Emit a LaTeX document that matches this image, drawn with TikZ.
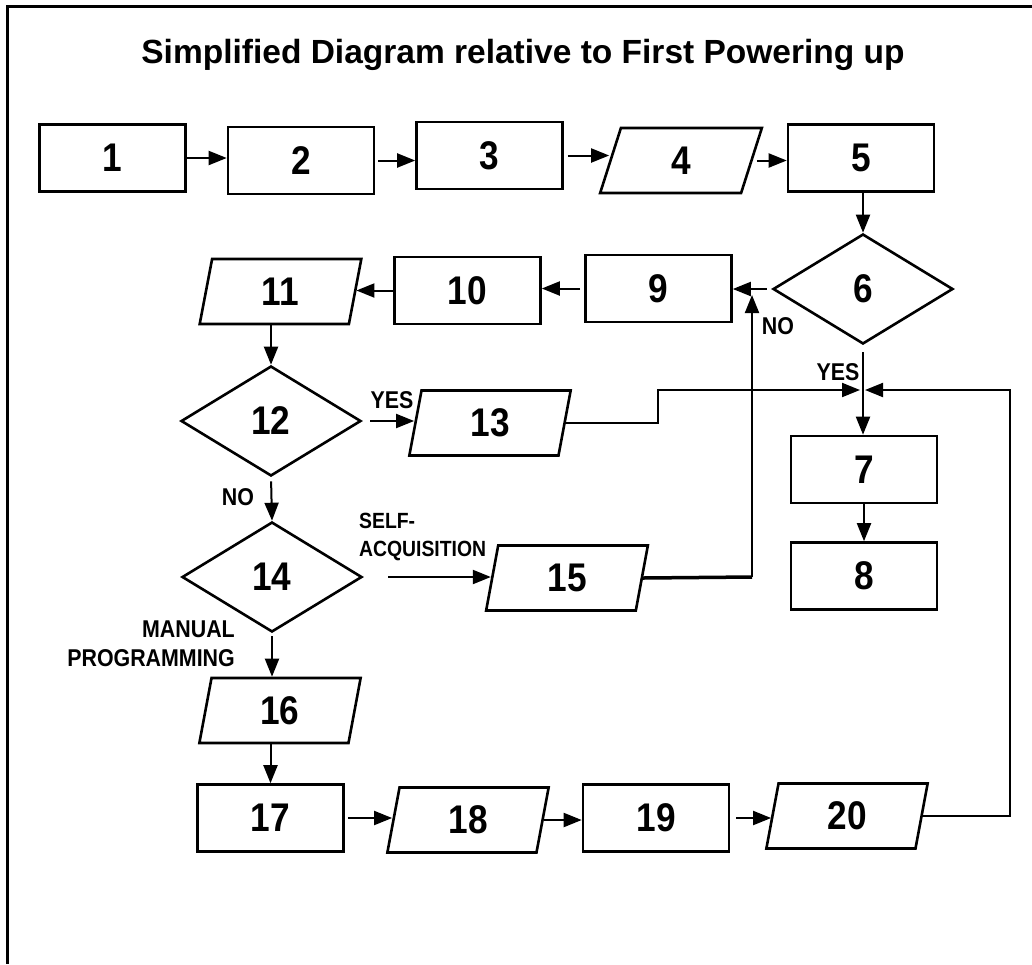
\documentclass[tikz,border=0pt]{standalone}
\usepackage{fontspec}
\setmainfont{Liberation Sans}
\newfontfamily\condfont[FakeStretch=0.88]{Liberation Sans}
\usetikzlibrary{shapes.geometric,arrows.meta}
\begin{document}
\begin{tikzpicture}[x=1pt,y=-1pt,
  numfont/.style={font=\condfont\bfseries\fontsize{40}{40}\selectfont},
  box/.style={draw, line width=2.6pt, rectangle, minimum width=146pt,
    minimum height=67pt, inner sep=0pt, numfont},
  io/.style={draw, line width=2.6pt, trapezium, trapezium left angle=83,
    trapezium right angle=97, trapezium stretches=true,
    minimum width=162pt, minimum height=65pt, inner sep=0pt, numfont},
  dec/.style={draw, line width=2.6pt, diamond, minimum width=180pt,
    minimum height=110pt, inner sep=0pt, numfont},
  arr/.style={line width=2pt, -{Triangle[length=18pt,width=14pt]}},
  lbl/.style={inner sep=0pt, font=\condfont\bfseries\fontsize{24.3}{29}\selectfont},
]
\useasboundingbox (0,0) rectangle (1032,964);
\fill[white] (0,0) rectangle (1032,964);

% outer frame (top and left edges)
\draw[line width=3pt] (1032,6) -- (7,6) -- (7,964);

% title
\node[font=\bfseries\fontsize{33.5}{33.5}\selectfont, anchor=base] (title)
  at (523,63) {Simplified Diagram relative to First Powering up};

% first row
\node[box] (n1) at (112.5,158) {1};
\node[box] (n2) at (301,160.5) {2};
\node[box] (n3) at (489.5,155.5) {3};
\node[io]  (n4) at (681,160.5) {4};
\node[box] (n5) at (861,158) {5};

% second row
\node[dec] (n6)  at (863,289) {6};
\node[box] (n9)  at (658.5,288.5) {9};
\node[box] (n10) at (467.5,290.5) {10};
\node[io]  (n11) at (280.5,291.5) {11};

% left column and right branch
\node[dec] (n12) at (271,421) {12};
\node[io]  (n13) at (490,423) {13};
\node[box] (n7)  at (864,469.5) {7};
\node[box] (n8)  at (864,576) {8};
\node[dec] (n14) at (272,577) {14};
\node[io]  (n15) at (567,578) {15};
\node[io]  (n16) at (280,710.5) {16};

% bottom row
\node[box] (n17) at (270.5,818) {17};
\node[io]  (n18) at (468,820) {18};
\node[box] (n19) at (656,818) {19};
\node[io]  (n20) at (847,816) {20};

% branch labels
\node[lbl] (no6)   at (778,326) {NO};
\node[lbl] (yes6)  at (838,372) {YES};
\node[lbl] (yes12) at (392,400) {YES};
\node[lbl] (no12)  at (238,497) {NO};
\node[lbl, font=\condfont\bfseries\fontsize{22}{28}\selectfont, align=left,
  anchor=west] (selfacq) at (359,537) {SELF-\\ACQUISITION};
\node[lbl, align=right, anchor=east] (manual) at (235,644) {MANUAL\\PROGRAMMING};

% routing points
\coordinate (merge) at (863,390);
\coordinate (k13) at (658,390);
\coordinate (k20) at (1010,390);
\coordinate (k15) at (752,577);
\coordinate (tip9) at (752,295);

% straight connectors
\draw[arr] (n1.east) -- (n1.east -| n2.west);
\draw[arr, shorten <=3pt] (n2.east) -- (n2.east -| n3.west);
\draw[arr, shorten <=4pt] (n3.east) -- (n3.east -| n4.west);
\draw[arr, shorten <=4pt] (n4.east) -- (n4.east -| n5.west);
\draw[arr] (n6.north |- n5.south) -- (n6.north);
\draw[arr, shorten <=5pt] (n6.west) -- (n6.west -| n9.east);
\draw[arr, shorten <=4pt] (n9.west) -- (n9.west -| n10.east);
\draw[arr] (n10.west) -- (n10.west -| n11.east);
\draw[arr] (n12.north |- n11.south) -- (n12.north);
\draw[arr, shorten <=8pt] (n12.east) -- (n12.east -| n13.west);
\draw[arr, shorten <=4pt] (n12.south) -- (n14.north);
\draw[arr, shorten <=25pt] (n14.east) -- (n14.east -| n15.west);
\draw[arr, shorten <=3pt] (n14.south) -- (n14.south |- n16.north);
\draw[arr] (n17.north |- n16.south) -- (n17.north);
\draw[arr, shorten <=3pt] (n17.east) -- (n17.east -| n18.west);
\draw[arr] (n18.east) -- (n18.east -| n19.west);
\draw[arr, shorten <=6pt] (n19.east) -- (n19.east -| n20.west);
\draw[arr, shorten <=7pt] (n6.south) -- (n6.south |- n7.north);
\draw[arr] (n7.south) -- (n8.north);

% return paths
\draw[arr, shorten >=3pt] (n13.east) -| (k13) -- (merge);
\draw[arr, shorten >=2pt] (n20.east) -| (k20) -- (merge);
\draw[line width=3.5pt] (n15.east) -- (k15);
\draw[arr] (k15) -- (tip9);
\end{tikzpicture}
\end{document}
